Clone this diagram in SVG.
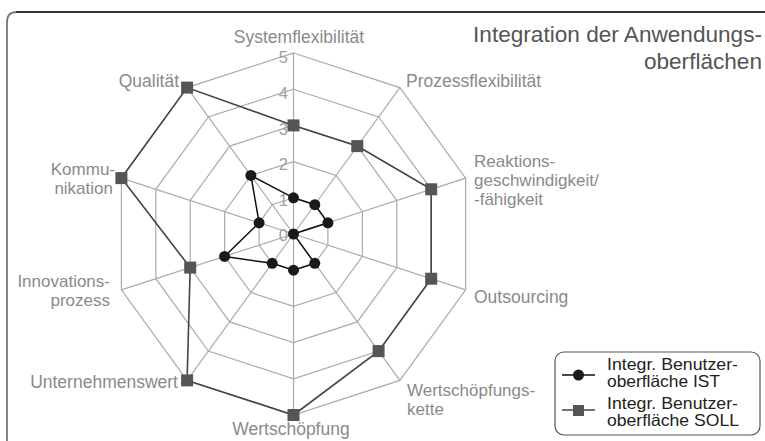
<svg xmlns="http://www.w3.org/2000/svg" width="765" height="441" viewBox="0 0 765 441">
<style>
.grid{fill:none;stroke:#ababab;stroke-width:1.2}
.lbl{font-family:"Liberation Sans",Arial,sans-serif;font-size:17.5px;fill:#8a8a8a}
.ml{font-size:17px}
.num{font-family:"Liberation Sans",Arial,sans-serif;font-size:16.5px;fill:#a0a0a0;text-anchor:end}
.title{font-family:"Liberation Sans",Arial,sans-serif;font-size:22.6px;fill:#555;text-anchor:end}
.leg{font-family:"Liberation Sans",Arial,sans-serif;font-size:16.5px;fill:#222}
.ist{fill:none;stroke:#111;stroke-width:1.5}
.soll{fill:none;stroke:#444;stroke-width:1.6}
.dot{fill:#1a1a1a}
.sq{fill:#555}
</style>
<defs>
<rect id="sqm" x="-6" y="-6" width="12" height="12" class="sq"/>
<circle id="dotm" r="5.5" class="dot"/>
</defs>
<rect width="765" height="441" fill="#fff"/>
<g id="frame">
<path d="M7,445 L7,22 Q7,12 17,12" fill="none" stroke="#777" stroke-width="1.8"/>
<path d="M16,12 L766,12" fill="none" stroke="#333" stroke-width="1.8"/>
</g>
<g id="grid">
<polygon class="grid" points="293.5,197.8 314.8,204.7 327.9,222.8 327.9,245.2 314.8,263.3 293.5,270.2 272.2,263.3 259.1,245.2 259.1,222.8 272.2,204.7"/>
<polygon class="grid" points="293.5,161.6 336.1,175.4 362.4,211.6 362.4,256.4 336.1,292.6 293.5,306.4 250.9,292.6 224.6,256.4 224.6,211.6 250.9,175.4"/>
<polygon class="grid" points="293.5,125.4 357.3,146.1 396.8,200.4 396.8,267.6 357.3,321.9 293.5,342.6 229.7,321.9 190.2,267.6 190.2,200.4 229.7,146.1"/>
<polygon class="grid" points="293.5,89.2 378.6,116.9 431.2,189.3 431.2,278.7 378.6,351.1 293.5,378.8 208.4,351.1 155.8,278.7 155.8,189.3 208.4,116.9"/>
<polygon class="grid" points="293.5,53 399.9,87.6 465.6,178.1 465.6,289.9 399.9,380.4 293.5,415 187.1,380.4 121.4,289.9 121.4,178.1 187.1,87.6"/>
<path class="grid" d="M293.5,234 L293.5,53 M293.5,234 L399.9,87.6 M293.5,234 L465.6,178.1 M293.5,234 L465.6,289.9 M293.5,234 L399.9,380.4 M293.5,234 L293.5,415 M293.5,234 L187.1,380.4 M293.5,234 L121.4,289.9 M293.5,234 L121.4,178.1 M293.5,234 L187.1,87.6"/>
</g>
<g id="scale">
<text class="num" x="288" y="63">5</text>
<text class="num" x="288" y="99">4</text>
<text class="num" x="288" y="134.5">3</text>
<text class="num" x="288" y="170">2</text>
<text class="num" x="288" y="205.5">1</text>
<text class="num" x="288" y="241">0</text>
</g>
<g id="connectors">
<polygon id="soll-line" class="soll" points="293.5,125.4 357.3,146.1 431.2,189.3 431.2,278.7 378.6,351.1 293.5,415 187.1,380.4 190.2,267.6 121.4,178.1 187.1,87.6"/>
<polygon id="ist-line" class="ist" points="293.5,197.8 314.8,204.7 327.9,222.8 293.5,234 314.8,263.3 293.5,270.2 272.2,263.3 224.6,256.4 259.1,222.8 250.9,175.4"/>
</g>
<g id="soll-markers">
<use href="#sqm" x="293.5" y="125.4"/>
<use href="#sqm" x="357.3" y="146.1"/>
<use href="#sqm" x="431.2" y="189.3"/>
<use href="#sqm" x="431.2" y="278.7"/>
<use href="#sqm" x="378.6" y="351.1"/>
<use href="#sqm" x="293.5" y="415"/>
<use href="#sqm" x="187.1" y="380.4"/>
<use href="#sqm" x="190.2" y="267.6"/>
<use href="#sqm" x="121.4" y="178.1"/>
<use href="#sqm" x="187.1" y="87.6"/>
</g>
<g id="ist-markers">
<use href="#dotm" x="293.5" y="197.8"/>
<use href="#dotm" x="314.8" y="204.7"/>
<use href="#dotm" x="327.9" y="222.8"/>
<use href="#dotm" x="293.5" y="234"/>
<use href="#dotm" x="314.8" y="263.3"/>
<use href="#dotm" x="293.5" y="270.2"/>
<use href="#dotm" x="272.2" y="263.3"/>
<use href="#dotm" x="224.6" y="256.4"/>
<use href="#dotm" x="259.1" y="222.8"/>
<use href="#dotm" x="250.9" y="175.4"/>
</g>
<g id="axis-systemflexibilitaet"><text class="lbl" x="299" y="43" text-anchor="middle">Systemflexibilität</text></g>
<g id="axis-prozessflexibilitaet"><text class="lbl" x="406" y="87">Prozessflexibilität</text></g>
<g id="axis-reaktion"><text class="lbl ml" x="474" y="166.5"><tspan x="474">Reaktions-</tspan><tspan x="474" dy="19">geschwindigkeit/</tspan><tspan x="474" dy="19">-fähigkeit</tspan></text></g>
<g id="axis-outsourcing"><text class="lbl" x="474" y="303">Outsourcing</text></g>
<g id="axis-wertschoepfungskette"><text class="lbl ml" x="407" y="395.8"><tspan x="407">Wertschöpfungs-</tspan><tspan x="407" dy="19">kette</tspan></text></g>
<g id="axis-wertschoepfung"><text class="lbl" x="291" y="435" text-anchor="middle">Wertschöpfung</text></g>
<g id="axis-unternehmenswert"><text class="lbl" x="178" y="388" text-anchor="end">Unternehmenswert</text></g>
<g id="axis-innovationsprozess"><text class="lbl ml" x="110" y="286.8" text-anchor="end"><tspan x="110">Innovations-</tspan><tspan x="110" dy="19">prozess</tspan></text></g>
<g id="axis-kommunikation"><text class="lbl ml" x="115" y="174.8" text-anchor="end"><tspan x="115">Kommu-</tspan><tspan x="113" dy="19">nikation</tspan></text></g>
<g id="axis-qualitaet"><text class="lbl" x="179" y="87" text-anchor="end">Qualität</text></g>
<g id="title"><text class="title" x="762" y="41.5"><tspan x="762">Integration der Anwendungs-</tspan><tspan x="762" dy="27">oberflächen</tspan></text></g>
<g id="legend">
<rect x="555" y="352" width="205" height="83" rx="9" ry="9" fill="#fff" stroke="#555" stroke-width="1.2"/>
<line x1="562" y1="375" x2="595" y2="375" stroke="#111" stroke-width="1.5"/>
<circle cx="578.5" cy="375" r="5.5" class="dot"/>
<line x1="562" y1="410" x2="595" y2="410" stroke="#444" stroke-width="1.5"/>
<rect x="573" y="405" width="11" height="11" class="sq"/>
<text class="leg" x="607" y="370"><tspan x="607" textLength="131" lengthAdjust="spacingAndGlyphs">Integr. Benutzer-</tspan><tspan x="607" dy="17" textLength="113" lengthAdjust="spacingAndGlyphs">oberfläche IST</tspan></text>
<text class="leg" x="607" y="408.5"><tspan x="607" textLength="131" lengthAdjust="spacingAndGlyphs">Integr. Benutzer-</tspan><tspan x="607" dy="17" textLength="132" lengthAdjust="spacingAndGlyphs">oberfläche SOLL</tspan></text>
</g>
</svg>
